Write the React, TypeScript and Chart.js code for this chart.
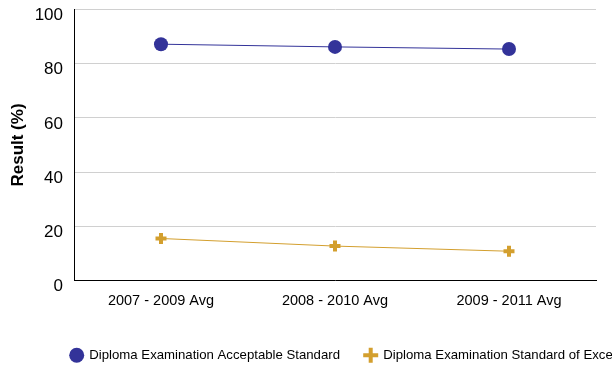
import React, { useEffect, useRef } from "react";
import { Chart, registerables } from "chart.js";

Chart.register(...registerables);

const categories = ["2007 - 2009 Avg", "2008 - 2010 Avg", "2009 - 2011 Avg"];
const acceptable = [87.2, 86.2, 85.4];
const excellence = [15.5, 12.7, 10.8];
const seriesNames = [
  "Diploma Examination Acceptable Standard",
  "Diploma Examination Standard of Excellence",
];
const yTitle = "Result (%)";

const FONT = "'Liberation Sans', Arial, sans-serif";
const BLUE = "#333399";
const GOLD = "#D39F2E";

const legendShift = {
  id: "legendShift",
  afterLayout(chart: any) {
    const lg = chart.legend;
    if (!lg) return;
    lg.left = 46;
    lg.right = 800;
    lg.top = 324;
    lg.bottom = 400;
  },
};

export default function App() {
  const ref = useRef<HTMLCanvasElement | null>(null);
  useEffect(() => {
    if (!ref.current) return;
    const chart = new Chart(ref.current, {
      type: "line",
      data: {
        labels: categories,
        datasets: [
          {
            label: seriesNames[0],
            data: acceptable,
            borderColor: BLUE,
            backgroundColor: BLUE,
            borderWidth: 1,
            pointStyle: "circle",
            pointRadius: 7,
            pointHoverRadius: 7,
            pointBorderWidth: 0,
            pointBackgroundColor: BLUE,
            pointBorderColor: BLUE,
          },
          {
            label: seriesNames[1],
            data: excellence,
            borderColor: GOLD,
            backgroundColor: GOLD,
            borderWidth: 1,
            pointStyle: "cross",
            pointRadius: 5.5,
            pointHoverRadius: 5.5,
            pointBorderWidth: 4,
            pointBackgroundColor: GOLD,
            pointBorderColor: GOLD,
          },
        ],
      },
      options: {
        responsive: false,
        animation: false,
        layout: { padding: { left: 0, right: 16, top: 0, bottom: 0 } },
        plugins: {
          tooltip: { enabled: false },
          legend: {
            position: "bottom",
            align: "start",
            maxHeight: 48,
            labels: {
              usePointStyle: true,
              boxWidth: 12,
              boxHeight: 10.6,
              padding: 24.7,
              color: "#000",
              font: { size: 13.2, family: FONT },
            },
          },
        },
        scales: {
          x: {
            offset: true,
            grid: { display: true, drawOnChartArea: false, drawTicks: false },
            border: { display: true, color: "#000", width: 1 },
            ticks: {
              padding: 12,
              color: "#000",
              font: { size: 14.5, family: FONT },
              maxRotation: 0,
            },
            afterFit(scale: any) {
              scale.height = 37.5;
            },
          },
          y: {
            min: 0,
            max: 100,
            ticks: {
              stepSize: 20,
              padding: 11,
              color: "#000",
              font: { size: 17, family: FONT, lineHeight: "12px" },
              callback: (v: any) => ["", String(v)],
            },
            grid: { color: "#d0d0d0", lineWidth: 1, drawTicks: false },
            border: { display: true, color: "#000", width: 1 },
            title: {
              display: true,
              text: yTitle,
              color: "#000",
              font: { size: 17, weight: "bold", family: FONT },
              padding: { top: 8.6, bottom: 0 },
            },
            afterFit(scale: any) {
              scale.width = 74;
              scale.paddingTop = 9;
              scale.paddingBottom = 0;
            },
          },
        },
      },
      plugins: [legendShift],
    });
    return () => chart.destroy();
  }, []);
  return (
    <div style={{ position: "fixed", left: 0, top: 0, width: 612, height: 366, background: "#fff" }}>
      <canvas ref={ref} width={612} height={366} />
    </div>
  );
}
